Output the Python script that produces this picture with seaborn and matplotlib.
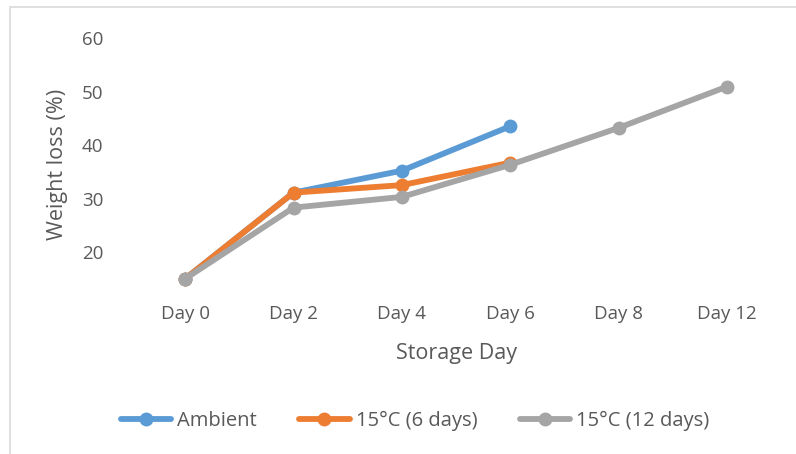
import matplotlib
matplotlib.use("Agg")
import matplotlib.pyplot as plt
import seaborn as sns
import pandas as pd
from matplotlib.patches import Rectangle

days = ["Day 0", "Day 2", "Day 4", "Day 6", "Day 8", "Day 12"]
ambient = [15.0, 31.1, 35.2, 43.5]
c15_6 = [15.0, 31.1, 32.5, 36.7]
c15_12 = [15.0, 28.3, 30.3, 36.3, 43.2, 50.9]
series_names = ["Ambient", "15°C (6 days)", "15°C (12 days)"]
series_vals = [ambient, c15_6, c15_12]
colors = ["#5B9BD5", "#ED7D31", "#A5A5A5"]
yticks = [20, 30, 40, 50, 60]

sns.set_theme(style="white")
plt.rcParams['font.family'] = ['Open Sans', 'DejaVu Sans']
txt = "#595959"

fig = plt.figure(figsize=(7.96, 4.54), dpi=100)
ax = fig.add_axes([131/796, 1-290/454, 650/796, 252/454])

rows = []
for name, vals in zip(series_names, series_vals):
    for d, v in zip(days, vals):
        rows.append({"Day": d, "Value": v, "Series": name})
df = pd.DataFrame(rows)
df["x"] = df["Day"].map({d: i for i, d in enumerate(days)})

for name, col in zip(series_names, colors):
    sub = df[df["Series"] == name]
    sns.lineplot(data=sub, x="x", y="Value", ax=ax, color=col, linewidth=4.2,
                 marker="o", markersize=10, markeredgewidth=0, label=name,
                 sort=False, solid_capstyle="round")

ax.set_xlim(-0.5, len(days) - 0.5)
ax.set_ylim(12.9, 60)
ax.set_xticks(range(len(days)))
ax.set_xticklabels(days)
ax.set_yticks(yticks)
for s in ax.spines.values():
    s.set_visible(False)
ax.tick_params(axis="both", length=0, labelsize=13.5, colors=txt)
ax.tick_params(axis="y", pad=20)
ax.tick_params(axis="x", pad=11)
ax.set_xlabel("Storage Day", fontsize=15.5, color=txt, labelpad=14)
ax.set_ylabel("Weight loss (%)", fontsize=15.5, color=txt, labelpad=10)

ax.legend_.remove()
h, l = ax.get_legend_handles_labels()
fig.legend(h, l, loc="center", bbox_to_anchor=(415/796, 1-421/454), ncol=3,
           frameon=False, fontsize=14.5, handlelength=2.5, columnspacing=2.1,
           handletextpad=0.3, labelcolor=txt)

fig.patches.append(Rectangle((10/796, -0.1), 1.2, 1 - 7/454 + 0.1,
                             transform=fig.transFigure, fill=False,
                             edgecolor="#D9D9D9", linewidth=1.2))

fig.savefig("out.png", dpi=100)
